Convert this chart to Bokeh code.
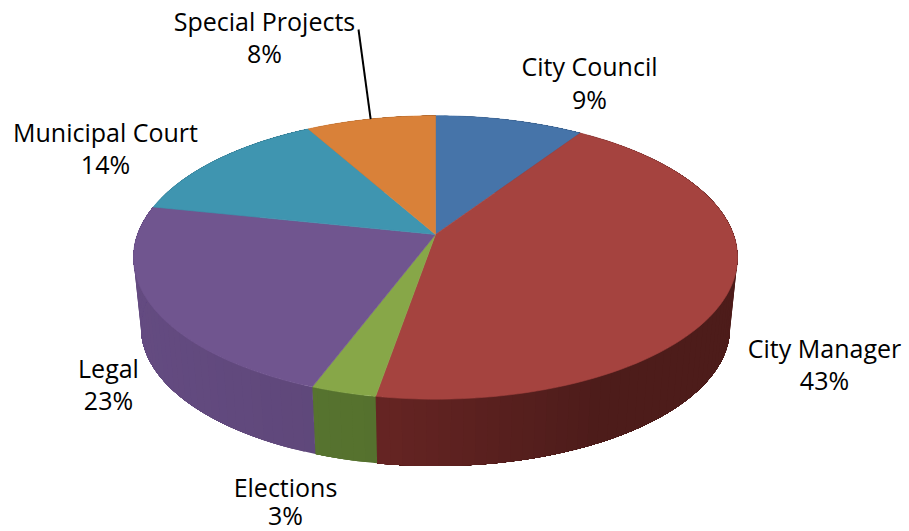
import numpy as np
from bokeh.core.properties import value
from bokeh.embed import file_html
from bokeh.models import ColumnDataSource
from bokeh.plotting import figure
from bokeh.resources import INLINE

# Spending shares by department, clockwise from twelve o'clock
departments = ["City Council", "City Manager", "Elections", "Legal", "Municipal Court", "Special Projects"]
shares = [9.3, 43.4, 3.0, 22.6, 13.6, 8.1]

top_colors = ["#4674a9", "#a5433f", "#87a748", "#70558f", "#3f95b0", "#d98139"]
wall_colors = ["#2f4f75", "#6e2826", "#5c7a32", "#654c82", "#2a6478", "#975a28"]

# Label anchors: name line and percentage line share an x position
label_x = [589, 824, 285, 108, 105, 264]
name_y = [65, 347, 486, 367, 131, 20]
pct_y = [98, 379, 514, 399, 163, 52]

# Tilted-disc projection
CX, CY = 435.0, 234.0
SPREAD_X, SPREAD_Y, NEAR_GAIN = 298.0, 138.0, 0.162
FLOOR_DROP, FLOOR_SCALE = 71.0, 0.975


def project(theta, drop=0.0, scale=1.0):
    u, v = np.sin(theta), np.cos(theta)
    w = 1 + NEAR_GAIN * v
    return CX + scale * SPREAD_X * u / w, CY + drop - scale * SPREAD_Y * v / w


def shade(hex_color, factor):
    rgb = [int(hex_color[i:i + 2], 16) for i in (1, 3, 5)]
    return "#" + "".join(f"{int(np.clip(c * factor, 0, 255)):02x}" for c in rgb)


edges = np.cumsum([0] + shares) / sum(shares) * 2 * np.pi

p = figure(width=909, height=531, x_range=(0, 909), y_range=(531, 0),
           output_backend="svg", toolbar_location=None, min_border=0)
p.axis.visible = False
p.grid.visible = False
p.outline_line_color = None
p.background_fill_color = "#ffffff"
p.border_fill_color = "#ffffff"

# Side wall: each shaded strip runs to the end of its slice and the next one
# paints over it, so no seams show between neighbouring strips
wx, wy, wc = [], [], []
for start, stop, col in zip(edges[:-1], edges[1:], wall_colors):
    is_red = col == wall_colors[1]
    for a in np.arange(start, stop, np.radians(2.0)):
        arc = np.linspace(a, stop, max(3, int((stop - a) / np.radians(1.0))))
        xt, yt = project(arc)
        xb, yb = project(arc[::-1], FLOOR_DROP, FLOOR_SCALE)
        s = np.sin(a)
        if is_red:
            factor = 1.0 - 0.30 * np.clip((s + 0.35) / 0.85, 0, 1)
        else:
            factor = 1.0 - 0.16 * (s + 1) / 2
        wx.append(np.r_[xt, xb].tolist())
        wy.append(np.r_[yt, yb].tolist())
        wc.append(shade(col, factor))
p.patches("x", "y", source=ColumnDataSource(dict(x=wx, y=wy, c=wc)),
          fill_color="c", line_color=None)

# Top face wedges
fx, fy = [], []
for start, stop in zip(edges[:-1], edges[1:]):
    arc = np.linspace(start, stop, 90)
    xs, ys = project(arc)
    fx.append(np.r_[CX, xs].tolist())
    fy.append(np.r_[CY, ys].tolist())
p.patches("x", "y", source=ColumnDataSource(dict(x=fx, y=fy, c=top_colors)),
          fill_color="c", line_color="c", line_width=0.6)

# Leader from the Special Projects label to the rim of its wedge
rim_x, rim_y = project((edges[-2] + edges[-1]) / 2)
p.line([358, rim_x], [29, rim_y], line_color="#000000", line_width=2)

labels = ColumnDataSource(dict(
    x=label_x + label_x,
    y=name_y + pct_y,
    t=departments + [f"{round(s)}%" for s in shares],
))
p.text("x", "y", text="t", source=labels, text_align="center", text_baseline="alphabetic",
       text_font=value("Open Sans"), text_font_size="25px", text_color="#000000")

open("out.html", "w").write(file_html(p, INLINE))
